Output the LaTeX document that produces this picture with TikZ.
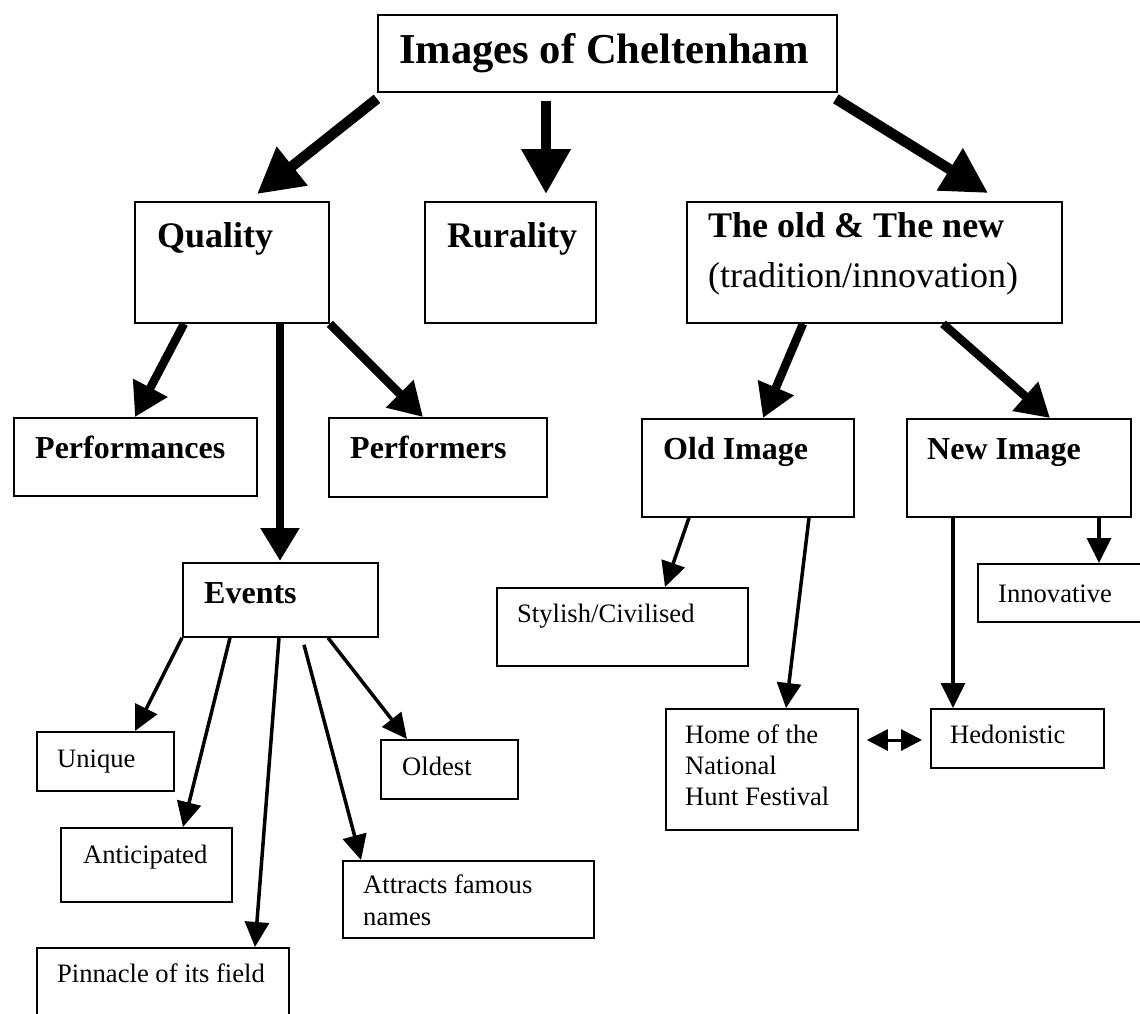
\documentclass[tikz,border=0pt]{standalone}
\usepackage{fontspec}
\setmainfont{Liberation Serif}
\usetikzlibrary{arrows.meta}
\begin{document}
\begin{tikzpicture}[x=1pt,y=-1pt,
  box/.style={draw, line width=1.8pt, rectangle, inner sep=0pt, anchor=north west},
  ttl/.style={font=\fontsize{42.6}{48}\selectfont\bfseries, anchor=base west, inner sep=0pt},
  big/.style={font=\fontsize{36}{40}\selectfont\bfseries, anchor=base west, inner sep=0pt},
  bigreg/.style={font=\fontsize{36}{40}\selectfont, anchor=base west, inner sep=0pt},
  mid/.style={font=\fontsize{32}{36}\selectfont\bfseries, anchor=base west, inner sep=0pt},
  small/.style={font=\fontsize{26.6}{31}\selectfont, anchor=base west, inner sep=0pt, align=left},
  heavy/.style={line width=10.5pt, -{Triangle[length=45pt,width=47pt]}},
  medium/.style={line width=8.5pt, -{Triangle[length=33pt,width=37pt]}},
  thin/.style={line width=3.5pt, -{Triangle[length=25pt,width=24pt]}},
  dbl/.style={line width=3pt, {Triangle[length=21pt,width=21pt]}-{Triangle[length=21pt,width=21pt]}},
]
\fill[white] (0,0) rectangle (1140,1014);
\useasboundingbox (0,0) rectangle (1140,1014);

% boxes
\node[box, minimum width=459pt, minimum height=77pt] (title) at (377,14) {};
\node[box, minimum width=194pt, minimum height=121pt] (quality) at (134,201) {};
\node[box, minimum width=171pt, minimum height=121pt] (rurality) at (424,201) {};
\node[box, minimum width=375pt, minimum height=121pt] (old) at (686,201) {};
\node[box, minimum width=243pt, minimum height=78pt] (perf) at (13,417) {};
\node[box, minimum width=218pt, minimum height=79pt] (performers) at (328,417) {};
\node[box, minimum width=195pt, minimum height=74pt] (events) at (182,562) {};
\node[box, minimum width=212pt, minimum height=98pt] (oldimg) at (641,418) {};
\node[box, minimum width=224pt, minimum height=98pt] (newimg) at (906,418) {};
\node[box, minimum width=251pt, minimum height=78pt] (stylish) at (496,587) {};
\node[box, minimum width=180pt, minimum height=58pt] (innov) at (977,563) {};
\node[box, minimum width=192pt, minimum height=121pt] (home) at (665,708) {};
\node[box, minimum width=173pt, minimum height=59pt] (hed) at (930,708) {};
\node[box, minimum width=137pt, minimum height=59pt] (unique) at (36,731) {};
\node[box, minimum width=137pt, minimum height=59pt] (oldest) at (380,739) {};
\node[box, minimum width=171pt, minimum height=74pt] (antic) at (60,827) {};
\node[box, minimum width=251pt, minimum height=77pt] (attr) at (342,860) {};
\node[box, minimum width=252pt, minimum height=90pt] (pinn) at (36,947) {};

% texts
\node[ttl] (title-t) at (399,64) {Images of Cheltenham};
\node[big] (quality-t) at (157,247) {Quality};
\node[big] (rurality-t) at (447,247) {Rurality};
\node[big] (old-t) at (708,237) {The old \& The new};
\node[bigreg] (old-t2) at (708,287) {(tradition/innovation)};
\node[mid] (perf-t) at (35,458) {Performances};
\node[mid] (performers-t) at (350,458) {Performers};
\node[mid] (events-t) at (204,603) {Events};
\node[mid] (oldimg-t) at (663,459) {Old Image};
\node[mid] (newimg-t) at (927,459) {New Image};
\node[small] (stylish-t) at (517,622) {Stylish/Civilised};
\node[small] (innov-t) at (998,602) {Innovative};
\node[small] (home-t) at (685,805) {Home of the\\National\\Hunt Festival};
\node[small] (hed-t) at (950,743) {Hedonistic};
\node[small] (unique-t) at (57,767) {Unique};
\node[small] (oldest-t) at (402,775) {Oldest};
\node[small] (antic-t) at (83,863) {Anticipated};
\node[small, font=\fontsize{26.6}{32}\selectfont] (attr-t) at (363,925) {Attracts famous\\names};
\node[small] (pinn-t) at (57,982) {Pinnacle of its field};

% connectors
\draw[heavy] ([shift={(0,6)}]title.south west) -- ([shift={(123,-7)}]quality.north west);
\draw[heavy] ([shift={(169,8)}]title.south west) -- ([shift={(122,-7)}]rurality.north west);
\draw[heavy] ([shift={(-2,6)}]title.south east) -- ([shift={(302,-8)}]old.north west);

\draw[medium] ([shift={(50,0)}]quality.south west) -- ([shift={(122,0)}]perf.north west);
\draw[medium] ([shift={(146,0)}]quality.south west) -- ([shift={(98,-1)}]events.north west);
\draw[medium] (quality.south east) -- ([shift={(95,0)}]performers.north west);
\draw[medium] ([shift={(117,0)}]old.south west) -- ([shift={(122,0)}]oldimg.north west);
\draw[medium] ([shift={(257,0)}]old.south west) -- ([shift={(144,0)}]newimg.north west);

\draw[thin] ([shift={(48,0)}]oldimg.south west) -- ([shift={(169,0)}]stylish.north west);
\draw[thin] ([shift={(168,0)}]oldimg.south west) -- ([shift={(121,0)}]home.north west);
\draw[thin] ([shift={(47,0)}]newimg.south west) -- ([shift={(23,0)}]hed.north west);
\draw[thin] ([shift={(193,0)}]newimg.south west) -- ([shift={(122,0)}]innov.north west);
\draw[dbl] ([shift={(8,32)}]home.north east) -- ([shift={(-8,32)}]hed.north west);

\coordinate (attr-start) at ([shift={(122,7)}]events.south west);
\draw[thin] (events.south west) -- ([shift={(99,0)}]unique.north west);
\draw[thin] ([shift={(48,0)}]events.south west) -- ([shift={(123,0)}]antic.north west);
\draw[thin] ([shift={(97,0)}]events.south west) -- ([shift={(219,0)}]pinn.north west);
\draw[thin] (attr-start) -- ([shift={(19,0)}]attr.north west);
\draw[thin] ([shift={(146,0)}]events.south west) -- ([shift={(27,0)}]oldest.north west);
\end{tikzpicture}
\end{document}
